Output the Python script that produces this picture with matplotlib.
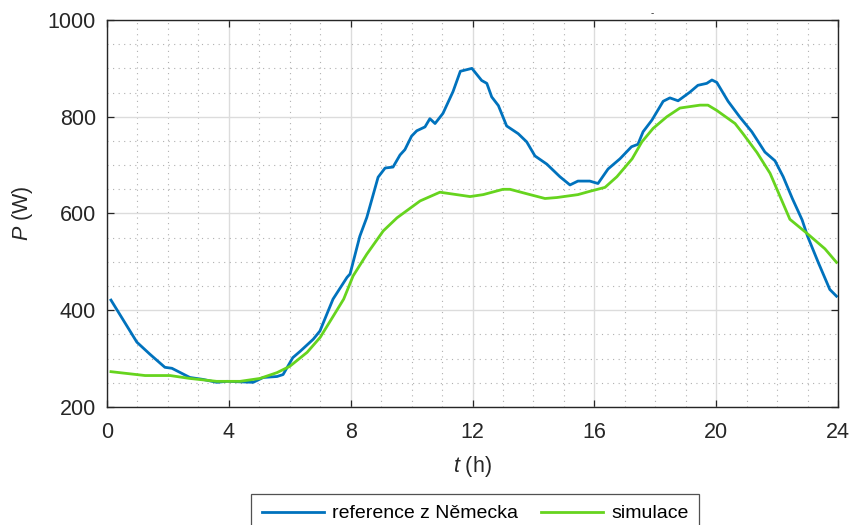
import numpy as np
import matplotlib
matplotlib.use('Agg')
import matplotlib.pyplot as plt
from matplotlib.ticker import MultipleLocator

plt.rcParams['font.family'] = ['Liberation Sans', 'DejaVu Sans']
plt.rcParams['mathtext.fontset'] = 'custom'
plt.rcParams['mathtext.rm'] = 'Liberation Sans'
plt.rcParams['mathtext.it'] = 'Liberation Sans:italic'

# Samples of the daily load profile (t in hours, P in watts)
t_ref = [0.13, 0.98, 1.41, 1.9, 2.13, 2.72, 3.15, 3.6, 3.94, 4.8, 5.13, 5.58,
         5.78, 6.1, 6.34, 6.77, 6.99, 7.42, 7.88, 7.98, 8.3, 8.53, 8.9, 9.13,
         9.39, 9.62, 9.78, 10.0, 10.17, 10.44, 10.6, 10.77, 11.03, 11.36, 11.6,
         11.98, 12.3, 12.47, 12.63, 12.85, 13.12, 13.5, 13.78, 14.05, 14.44,
         14.87, 15.2, 15.46, 15.85, 16.12, 16.45, 16.84, 17.22, 17.43, 17.6,
         17.89, 18.26, 18.48, 18.75, 19.14, 19.4, 19.69, 19.86, 20.02, 20.39,
         20.78, 21.17, 21.6, 21.93, 22.2, 22.5, 22.82, 23.0, 23.35, 23.73, 23.95]
p_ref = [421, 334, 309, 282, 280, 261, 257, 251, 253, 251, 261, 263,
         267, 302, 315, 340, 357, 423, 468, 475, 553, 592, 675, 694,
         696, 721, 732, 760, 771, 779, 796, 786, 807, 852, 894,
         900, 875, 869, 841, 823, 781, 765, 748, 719, 702,
         676, 659, 667, 667, 662, 692, 713, 738, 743, 769,
         793, 832, 839, 833, 851, 865, 869, 876, 871, 832,
         799, 769, 727, 709, 676, 631, 587, 553, 499, 443, 429]

t_sim = [0.13, 1.25, 2.07, 2.72, 3.6, 4.37, 5.02, 5.58, 6.0, 6.57, 7.0, 7.43,
         7.77, 8.08, 8.53, 9.07, 9.52, 10.28, 10.93, 11.26, 11.92, 12.35, 13.0,
         13.23, 13.89, 14.38, 14.77, 15.46, 15.86, 16.35, 16.74, 17.24, 17.56,
         17.93, 18.38, 18.81, 19.47, 19.73, 20.02, 20.62, 20.88, 21.34, 21.77,
         22.42, 22.98, 23.57, 23.95]
p_sim = [273, 265, 265, 259, 253, 253, 259, 271, 284, 313, 344, 388,
         423, 471, 516, 564, 591, 626, 644, 641, 635, 639, 650,
         650, 639, 631, 633, 639, 646, 654, 676, 713, 748,
         776, 800, 818, 824, 824, 813, 786, 765, 726, 683,
         588, 559, 527, 499]

fig = plt.figure(figsize=(8.5, 5.25), dpi=100)
ax = fig.add_axes([0.1259, 0.2248, 0.86, 0.7371])

ax.plot(t_ref, p_ref, color='#0072BD', lw=2.0, label='reference z Německa')
ax.plot(t_sim, p_sim, color='#66D41E', lw=2.0, label='simulace')

ax.set_xlim(0, 24)
ax.set_ylim(200, 1000)
ax.xaxis.set_major_locator(MultipleLocator(4))
ax.xaxis.set_minor_locator(MultipleLocator(1))
ax.yaxis.set_major_locator(MultipleLocator(200))
ax.yaxis.set_minor_locator(MultipleLocator(50))

ax.grid(which='major', color='#dcdcdc', lw=1.0, ls='-')
ax.grid(which='minor', color='#b0b0b0', lw=0.8, ls=(0, (1, 4)))
ax.set_axisbelow(True)

ax.tick_params(which='major', direction='in', length=5, width=0.9,
               top=True, right=True, labelsize=15.5, colors='#262626', pad=8)
ax.tick_params(axis='x', which='major', pad=11)
ax.tick_params(which='minor', length=0)
for s in ax.spines.values():
    s.set_color('#262626')
    s.set_linewidth(1.0)

ax.set_xlabel(r'$\it{t}$ (h)', fontsize=15.5, color='#262626', labelpad=8)
ax.set_ylabel(r'$\it{P}$ (W)', fontsize=15.5, color='#262626', labelpad=9)

fig.text(0.767, 0.975, '-', fontsize=7, color='#262626', ha='center', va='center')

leg = fig.legend(loc='upper center', bbox_to_anchor=(0.559, 1 - 494 / 525),
                 borderaxespad=0, ncol=2, fontsize=14, frameon=True,
                 fancybox=False, edgecolor='#262626', handlelength=3.2,
                 handletextpad=0.4, columnspacing=1.2, borderpad=0.55)
leg.get_frame().set_linewidth(0.9)

fig.savefig('out.png', dpi=100)
